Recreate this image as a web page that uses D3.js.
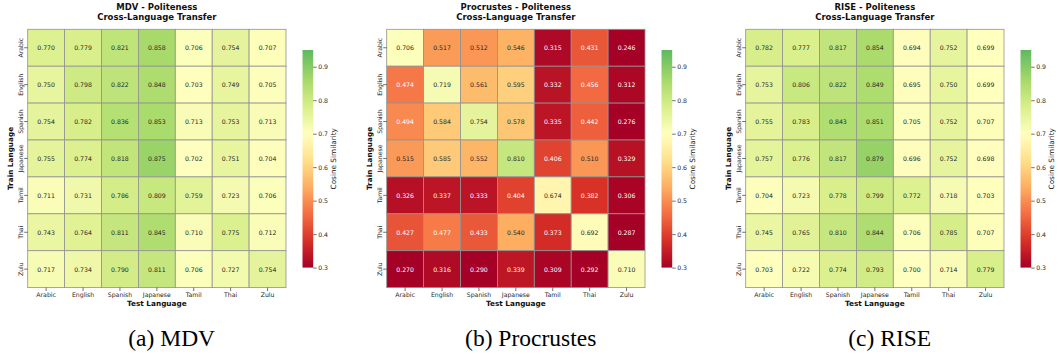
<!DOCTYPE html>
<html>
<head>
<meta charset="utf-8">
<script src="https://cdn.jsdelivr.net/npm/d3@7"></script>
<style>
  html, body { margin: 0; padding: 0; background: #fff; }
  svg { display: block; font-family: "DejaVu Sans", sans-serif; }
</style>
</head>
<body>
<svg id="chart" width="1058" height="356"></svg>
<script>
// Languages used for both train (rows) and test (columns)
const languages = ["Arabic", "English", "Spanish", "Japanese", "Tamil", "Thai", "Zulu"];

// Cosine similarity, rows = train language, columns = test language
const mdvValues = [
  [0.770, 0.779, 0.821, 0.858, 0.706, 0.754, 0.707],
  [0.750, 0.798, 0.822, 0.848, 0.703, 0.749, 0.705],
  [0.754, 0.782, 0.836, 0.853, 0.713, 0.753, 0.713],
  [0.755, 0.774, 0.818, 0.875, 0.702, 0.751, 0.704],
  [0.711, 0.731, 0.786, 0.809, 0.759, 0.723, 0.706],
  [0.743, 0.764, 0.811, 0.845, 0.710, 0.775, 0.712],
  [0.717, 0.734, 0.790, 0.811, 0.706, 0.727, 0.754]
];

const procrustesValues = [
  [0.706, 0.517, 0.512, 0.546, 0.315, 0.431, 0.246],
  [0.474, 0.719, 0.561, 0.595, 0.332, 0.456, 0.312],
  [0.494, 0.584, 0.754, 0.578, 0.335, 0.442, 0.276],
  [0.515, 0.585, 0.552, 0.810, 0.406, 0.510, 0.329],
  [0.326, 0.337, 0.333, 0.404, 0.674, 0.382, 0.306],
  [0.427, 0.477, 0.433, 0.540, 0.373, 0.692, 0.287],
  [0.270, 0.316, 0.290, 0.339, 0.309, 0.292, 0.710]
];

const riseValues = [
  [0.782, 0.777, 0.817, 0.854, 0.694, 0.752, 0.699],
  [0.753, 0.806, 0.822, 0.849, 0.695, 0.750, 0.699],
  [0.755, 0.783, 0.843, 0.851, 0.705, 0.752, 0.707],
  [0.757, 0.776, 0.817, 0.879, 0.696, 0.752, 0.698],
  [0.704, 0.723, 0.778, 0.799, 0.772, 0.718, 0.703],
  [0.745, 0.765, 0.810, 0.844, 0.706, 0.785, 0.707],
  [0.703, 0.722, 0.774, 0.793, 0.700, 0.714, 0.779]
];

const methodNames = ["MDV", "Procrustes", "RISE"];
const captionLabels = ["(a) MDV", "(b) Procrustes", "(c) RISE"];
const colorbarTicks = [0.3, 0.4, 0.5, 0.6, 0.7, 0.8, 0.9];

// Colour range: centred diverging map around 0.7
const vMin = 0.3, vMax = 0.95, vCenter = 0.7;
const vRange = Math.max(vMax - vCenter, vCenter - vMin);

const rdylgn = d3.scaleLinear()
  .domain(d3.range(11).map(i => i / 10))
  .range(d3.schemeRdYlGn[11])
  .interpolate(d3.interpolateRgb)
  .clamp(true);
const cmapLo = (vMin - (vCenter - vRange)) / (2 * vRange);
const cmapHi = (vMax - (vCenter - vRange)) / (2 * vRange);
const colorOf = v => {
  const t = Math.max(0, Math.min(1, (v - vMin) / (vMax - vMin)));
  return rdylgn(cmapLo + t * (cmapHi - cmapLo));
};

function luminance(c) {
  const rgb = d3.rgb(c);
  const lin = x => { x /= 255; return x <= 0.03928 ? x / 12.92 : Math.pow((x + 0.055) / 1.055, 2.4); };
  return 0.2126 * lin(rgb.r) + 0.7152 * lin(rgb.g) + 0.0722 * lin(rgb.b);
}

const svg = d3.select("#chart");
const panels = [mdvValues, procrustesValues, riseValues];

const gridLeft = 27.7, panelStep = 359, gridSize = 258.3;
const gridTop = 29.3;
const cbarGap = 16.5, cbarWidth = 10.7, cbarTop = 50, cbarBottom = 267.6;

const defs = svg.append("defs");
const grad = defs.append("linearGradient")
  .attr("id", "cbarGrad").attr("x1", 0).attr("y1", 1).attr("x2", 0).attr("y2", 0);
d3.range(0, 1.0001, 0.02).forEach(t => {
  grad.append("stop").attr("offset", t).attr("stop-color", colorOf(vMin + t * (vMax - vMin)));
});

panels.forEach((values, p) => {
  const x0 = gridLeft + p * panelStep;
  const g = svg.append("g");

  const x = d3.scaleBand().domain(languages).range([x0, x0 + gridSize]);
  const y = d3.scaleBand().domain(languages).range([gridTop, gridTop + gridSize]);

  const cells = values.flatMap((row, r) => row.map((v, c) => ({ train: languages[r], test: languages[c], v })));

  g.selectAll("rect.cell").data(cells).enter().append("rect")
    .attr("class", "cell")
    .attr("x", d => x(d.test)).attr("y", d => y(d.train))
    .attr("width", x.bandwidth()).attr("height", y.bandwidth())
    .attr("fill", d => colorOf(d.v))
    .attr("stroke", "#929292").attr("stroke-width", 0.8);

  g.selectAll("text.val").data(cells).enter().append("text")
    .attr("class", "val")
    .attr("x", d => x(d.test) + x.bandwidth() / 2)
    .attr("y", d => y(d.train) + y.bandwidth() / 2)
    .attr("text-anchor", "middle").attr("dominant-baseline", "central")
    .attr("font-size", 6.2)
    .attr("fill", d => luminance(colorOf(d.v)) > 0.408 ? "#262626" : "#ffffff")
    .text(d => d.v.toFixed(3));

  // Bottom axis
  const xAxis = d3.axisBottom(x).tickSize(3.5).tickPadding(1.5);
  const xg = g.append("g").attr("transform", `translate(0,${gridTop + gridSize})`).call(xAxis);
  xg.select(".domain").remove();
  xg.selectAll("line").attr("stroke", "#333").attr("stroke-width", 0.7);
  xg.selectAll("text").attr("font-size", 6.2).attr("fill", "#262626")
    .attr("font-family", "DejaVu Sans");

  // Left axis with rotated labels
  const yAxis = d3.axisLeft(y).tickSize(3.5).tickPadding(1.5);
  const yg = g.append("g").attr("transform", `translate(${x0},0)`).call(yAxis);
  yg.select(".domain").remove();
  yg.selectAll("line").attr("stroke", "#333").attr("stroke-width", 0.7);
  yg.selectAll("text")
    .attr("font-size", 6.2).attr("fill", "#262626").attr("font-family", "DejaVu Sans")
    .attr("x", null).attr("dy", null)
    .attr("text-anchor", "middle")
    .attr("transform", "translate(-5,0) rotate(-90)");

  const cx = x0 + gridSize / 2;
  const title = g.append("text").attr("text-anchor", "middle")
    .attr("font-size", 8.5).attr("font-weight", "bold").attr("fill", "#111");
  title.append("tspan").attr("x", cx).attr("y", 10.2).text(`${methodNames[p]} - Politeness`);
  title.append("tspan").attr("x", cx).attr("y", 19.9).text("Cross-Language Transfer");

  g.append("text").attr("x", cx).attr("y", 306.3).attr("text-anchor", "middle")
    .attr("font-size", 7.3).attr("font-weight", "bold").attr("fill", "#111")
    .text("Test Language");

  g.append("text")
    .attr("transform", `translate(${x0 - 14.4},${gridTop + gridSize / 2}) rotate(-90)`)
    .attr("text-anchor", "middle")
    .attr("font-size", 7.3).attr("font-weight", "bold").attr("fill", "#111")
    .text("Train Language");

  // Colour bar
  const cbx = x0 + gridSize + cbarGap;
  const cbScale = d3.scaleLinear().domain([vMin, vMax]).range([cbarBottom, cbarTop]);
  g.append("rect").attr("x", cbx).attr("y", cbarTop)
    .attr("width", cbarWidth).attr("height", cbarBottom - cbarTop)
    .attr("fill", "url(#cbarGrad)");
  const cbAxis = d3.axisRight(cbScale).tickValues(colorbarTicks).tickSize(3.5).tickPadding(1.5)
    .tickFormat(d3.format(".1f"));
  const cg = g.append("g").attr("transform", `translate(${cbx + cbarWidth},0)`).call(cbAxis);
  cg.select(".domain").remove();
  cg.selectAll("line").attr("stroke", "#333").attr("stroke-width", 0.7);
  cg.selectAll("text").attr("font-size", 6.2).attr("fill", "#262626").attr("font-family", "DejaVu Sans");

  g.append("text")
    .attr("transform", `translate(${cbx + cbarWidth + 22.6},${(cbarTop + cbarBottom) / 2}) rotate(-90)`)
    .attr("text-anchor", "middle")
    .attr("font-size", 7.3).attr("fill", "#222")
    .text("Cosine Similarity");

  // Sub-figure caption
  g.append("text").attr("x", x0 + 144).attr("y", 346.3)
    .attr("text-anchor", "middle")
    .attr("font-family", "Liberation Serif, Times New Roman, serif")
    .attr("font-size", 23.5).attr("fill", "#000")
    .text(captionLabels[p]);
});
</script>
</body>
</html>
